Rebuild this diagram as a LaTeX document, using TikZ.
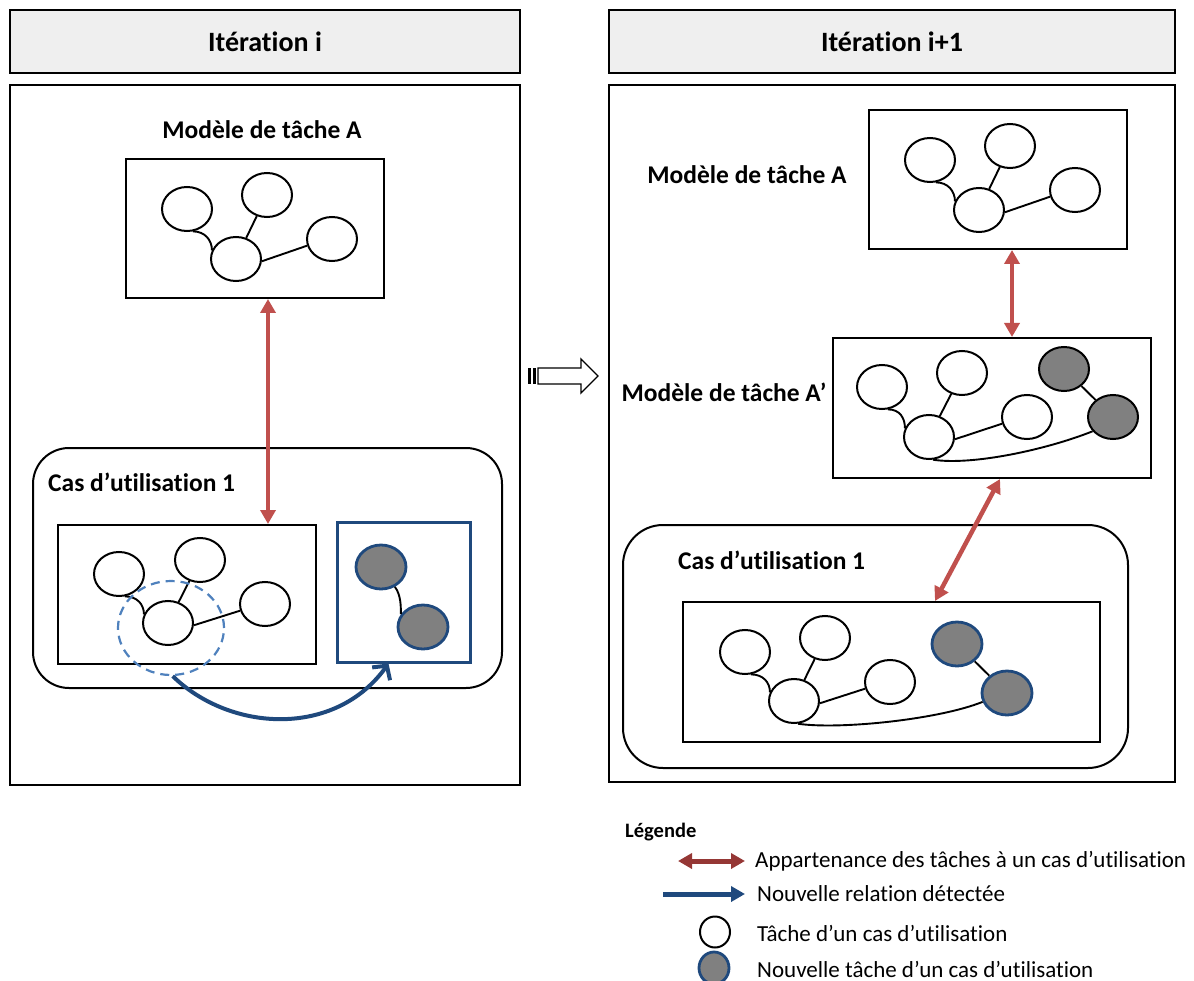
\documentclass[tikz,border=0pt]{standalone}
\usepackage{fontspec}
\setmainfont{Carlito}[Ligatures={NoCommon}]
\usetikzlibrary{shapes.geometric,arrows.meta,calc}
\definecolor{redarr}{HTML}{C0504D}
\definecolor{legred}{HTML}{953735}
\definecolor{navy}{HTML}{1F497D}
\definecolor{lightblue}{HTML}{4F81BD}
\definecolor{taskgray}{HTML}{808080}
\definecolor{hdrgray}{HTML}{EFEFEF}
\tikzset{
  task/.style={ellipse, draw, line width=2pt, minimum width=50pt, minimum height=44pt, inner sep=0pt, fill=white},
  newtask/.style={task, fill=taskgray, draw=navy, line width=2.8pt},
  newtaskb/.style={task, fill=taskgray},
  link/.style={line width=1.9pt},
  box/.style={draw, line width=2pt, inner sep=0pt},
  hdr/.style={box, fill=hdrgray, font=\fontsize{28}{33}\selectfont\bfseries},
  lbl/.style={font=\fontsize{25.5}{30}\selectfont\bfseries},
  legtxt/.style={font=\fontsize{23}{27}\selectfont, anchor=west, inner sep=0pt},
  redarrow/.style={draw=redarr, line width=4.5pt, {Triangle[length=14pt,width=15pt]}-{Triangle[length=14pt,width=15pt]}},
  bluearrow/.style={draw=navy, line width=4pt, -{Straight Barb[length=10pt,width=22pt,line width=4pt]}},
  casebox/.style={box, rounded corners=36pt}
}
\begin{document}
\begin{tikzpicture}[x=1pt,y=-1pt]
\useasboundingbox (0,0) rectangle (1194,981);
% ---------------- left ----------------
\node[hdr, minimum width=510pt, minimum height=63pt] (hdrL) at (265,41.5) {Itération i};
\node[box, minimum width=510pt, minimum height=700pt] (mainL) at (265,435) {};
\node[lbl] (titA) at (262,130) {Modèle de tâche A};
\node[box, minimum width=258pt, minimum height=139pt] (boxA) at (255,228.5) {};
\node[task] (A1) at (187,209) {};
\node[task] (A2) at (267,195) {};
\node[task] (A3) at (332,239) {};
\node[task] (A4) at (236,259) {};
\draw[link] (A1.-75) .. controls +(12,0) and +(0,-10) .. (A4.160);
\draw[link] (A2) -- (A4);
\draw[link] (A4.-5) -- (A3.195);

\node[casebox, minimum width=469pt, minimum height=240pt] (caseL) at (267.5,568) {};
\node[lbl, anchor=west, inner sep=0pt] (caseLt) at (48,482) {Cas d’utilisation 1};
\node[box, minimum width=258pt, minimum height=139pt] (boxU) at (187,594.5) {};
\node[task] (U1) at (119,574) {};
\node[task] (U2) at (200,560) {};
\node[task] (U3) at (265,604) {};
\node[task] (U4) at (168,623) {};
\draw[link] (U1.-75) .. controls +(12,0) and +(0,-10) .. (U4.160);
\draw[link] (U2) -- (U4);
\draw[link] (U4.-5) -- (U3.195);
\node[ellipse, draw=lightblue, dashed, dash pattern=on 9pt off 6pt, line width=2.2pt, minimum width=106pt, minimum height=94pt] (dashL) at (171,628) {};
\node[box, draw=navy, line width=3pt, minimum width=133pt, minimum height=140pt] (boxN) at (403.5,592) {};
\node[newtask] (G1) at (381,567) {};
\node[newtask] (G2) at (423,627) {};
\draw[link] (G1.-55) .. controls +(6,8) and +(0,-8) .. (G2.150);
\coordinate (redLx) at (268,0);
\draw[redarrow] (boxA.south -| redLx) -- (boxU.north -| redLx);
\coordinate (blueEnd) at ($(boxN.south)+(-15,0)$);
\draw[bluearrow] (dashL.-88) .. controls (230,732) and (335,738) .. (blueEnd);

% ---------------- middle hollow arrow ----------------
\fill (528,368) rectangle (531,384);
\fill (533,368) rectangle (536,384);
\draw[line width=1.4pt, fill=white] (538,368) -- (581,368) -- (581,359) -- (598,376) -- (581,393) -- (581,384) -- (538,384) -- cycle;

% ---------------- right ----------------
\node[hdr, minimum width=566pt, minimum height=63pt] (hdrR) at (892,41.5) {Itération i+1};
\node[box, minimum width=566pt, minimum height=697pt] (mainR) at (892,433.5) {};
\node[lbl] (titB) at (747,175) {Modèle de tâche A};
\node[box, minimum width=258pt, minimum height=139pt] (boxB) at (998,179.5) {};
\node[task] (B1) at (930,160) {};
\node[task] (B2) at (1010,146) {};
\node[task] (B3) at (1075,190) {};
\node[task] (B4) at (979,210) {};
\draw[link] (B1.-75) .. controls +(12,0) and +(0,-10) .. (B4.160);
\draw[link] (B2) -- (B4);
\draw[link] (B4.-5) -- (B3.195);

\node[lbl] (titP) at (724,392) {Modèle de tâche A’};
\node[box, minimum width=318pt, minimum height=140pt] (boxP) at (992,408) {};
\node[task] (P1) at (882,387) {};
\node[task] (P2) at (962,373) {};
\node[task] (P3) at (1027,417) {};
\node[task] (P4) at (929,437) {};
\node[newtaskb] (P5) at (1064,369) {};
\node[newtaskb] (P6) at (1113,417) {};
\draw[link] (P1.-75) .. controls +(12,0) and +(0,-10) .. (P4.160);
\draw[link] (P2) -- (P4);
\draw[link] (P4.-5) -- (P3.195);
\draw[link] (P5) -- (P6);
\draw[link] (P4.-80) .. controls +(40,6) and +(-45,18) .. (P6.215);

\coordinate (redRx) at (1012,0);
\draw[redarrow] (boxB.south -| redRx) -- (boxP.north -| redRx);

\node[casebox, rounded corners=40pt, minimum width=505pt, minimum height=243pt] (caseR) at (875.5,646.5) {};
\node[lbl, anchor=west, inner sep=0pt] (caseRt) at (678,560) {Cas d’utilisation 1};
\node[box, minimum width=417pt, minimum height=140pt] (boxQ) at (891.5,672) {};
\node[task] (Q1) at (745,652) {};
\node[task] (Q2) at (825,638) {};
\node[task] (Q3) at (890,682) {};
\node[task] (Q4) at (794,701) {};
\node[newtask] (Q5) at (957,644) {};
\node[newtask] (Q6) at (1007,693) {};
\draw[link] (Q1.-75) .. controls +(12,0) and +(0,-10) .. (Q4.160);
\draw[link] (Q2) -- (Q4);
\draw[link] (Q4.-5) -- (Q3.195);
\draw[link] (Q5) -- (Q6);
\draw[link] (Q4.-80) .. controls +(40,6) and +(-45,18) .. (Q6.200);

\coordinate (rdTop) at (1000,0);
\coordinate (rdBot) at (935,0);
\draw[redarrow] (boxP.south -| rdTop) -- (boxQ.north -| rdBot);

% ---------------- legend ----------------
\node[font=\fontsize{20.5}{24}\selectfont\bfseries, anchor=west, inner sep=0pt] (legT) at (625,832) {Légende};
\coordinate (l1a) at (678,861);
\coordinate (l1b) at (745,861);
\draw[draw=legred, line width=5pt, {Triangle[length=14pt,width=15pt]}-{Triangle[length=14pt,width=15pt]}] (l1a) -- (l1b);
\node[legtxt] (l1t) at (755,861) {Appartenance des tâches à un cas d’utilisation};
\coordinate (l2a) at (663,894);
\coordinate (l2b) at (745,894);
\draw[draw=navy, line width=5pt, -{Triangle[length=14pt,width=15pt]}] (l2a) -- (l2b);
\node[legtxt] (l2t) at (757,894) {Nouvelle relation détectée};
\node[task, minimum width=30pt, minimum height=31pt] (l3e) at (715,932) {};
\node[legtxt] (l3t) at (757,933) {Tâche d’un cas d’utilisation};
\node[newtask, minimum width=30pt, minimum height=32pt] (l4e) at (714,968) {};
\node[legtxt] (l4t) at (757,969) {Nouvelle tâche d’un cas d’utilisation};
\end{tikzpicture}
\end{document}
